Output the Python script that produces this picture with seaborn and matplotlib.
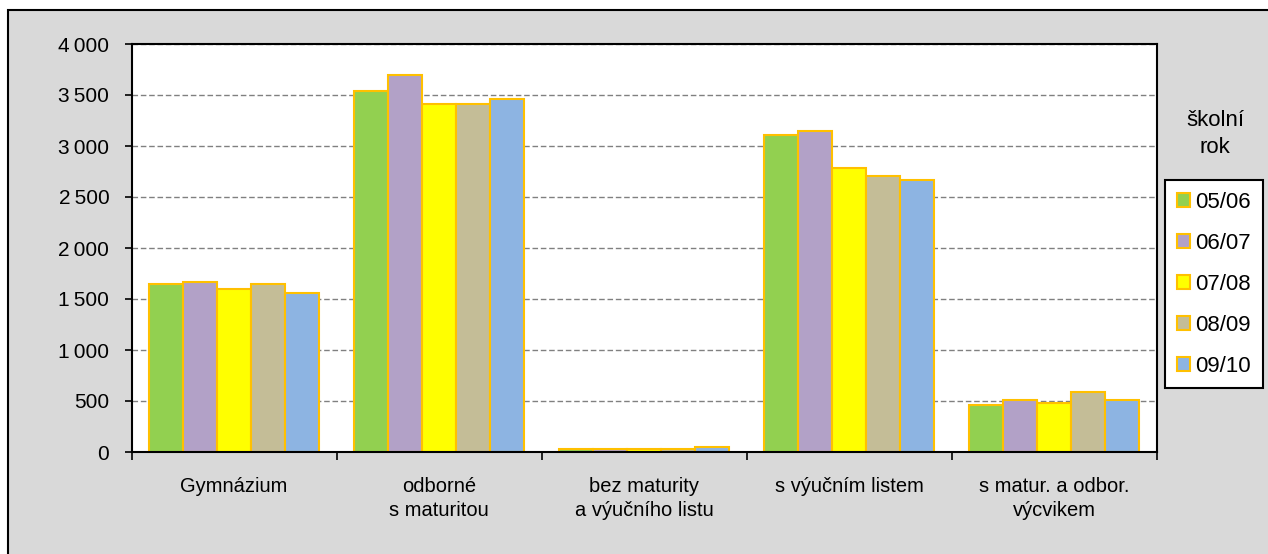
import pandas as pd
import seaborn as sns
import matplotlib.pyplot as plt
from matplotlib.patches import Rectangle, Patch
from matplotlib.ticker import FuncFormatter, MultipleLocator

categories = [
    "Gymnázium",
    "odborné\ns maturitou",
    "bez maturity\na výučního listu",
    "s výučním listem",
    "s matur. a odbor.\nvýcvikem",
]
years = ["05/06", "06/07", "07/08", "08/09", "09/10"]

v_0506 = [1650, 3540, 30, 3110, 460]
v_0607 = [1665, 3695, 25, 3150, 510]
v_0708 = [1595, 3410, 25, 2780, 480]
v_0809 = [1650, 3410, 30, 2710, 590]
v_0910 = [1555, 3465, 45, 2670, 510]

colors = ["#92D050", "#B2A1C7", "#FFFF00", "#C4BD97", "#8DB4E2"]
edge = "#FFC000"

rows = []
for yr, vals in zip(years, [v_0506, v_0607, v_0708, v_0809, v_0910]):
    for cat, v in zip(categories, vals):
        rows.append({"kategorie": cat, "rok": yr, "pocet": v})
df = pd.DataFrame(rows)

sns.set_style("white")
plt.rcParams["font.family"] = ["Liberation Sans", "DejaVu Sans"]
plt.rcParams["text.color"] = "black"
plt.rcParams["xtick.color"] = "black"
plt.rcParams["ytick.color"] = "black"

fig = plt.figure(figsize=(12.68, 5.54), dpi=100)
fig.patch.set_facecolor("white")

# outer chart frame (runs off the right and bottom edge like in the source)
fig.patches.append(Rectangle((8 / 1268, -0.05), 1.05, 1.05 - 10 / 554,
                             transform=fig.transFigure, facecolor="#D9D9D9",
                             edgecolor="black", linewidth=1.5, zorder=-5))

ax = fig.add_axes([131.5 / 1268, 1 - 452 / 554, 1025 / 1268, 408 / 554])
ax.set_zorder(2)
ax.set_facecolor("white")

sns.barplot(
    data=df, x="kategorie", y="pocet", hue="rok",
    order=categories, hue_order=years, palette=colors,
    edgecolor=edge, linewidth=1.5, width=0.83, saturation=1,
    legend=False, ax=ax,
)

ax.set_ylim(0, 4000)
ax.set_xlim(-0.5, 4.5)
ax.yaxis.set_major_locator(MultipleLocator(500))
ax.yaxis.set_major_formatter(FuncFormatter(lambda v, p: f"{int(v):,}".replace(",", "\u2009")))
ax.grid(axis="y", color="#808080", linestyle=(0, (4, 2)), linewidth=1)
ax.set_axisbelow(True)
for s in ax.spines.values():
    s.set_color("black")
    s.set_linewidth(1.5)

ax.set_xlabel("")
ax.set_ylabel("")
ax.tick_params(axis="y", labelsize=15, length=5, width=1.2, direction="out", left=True, pad=11)
ax.tick_params(axis="x", which="major", labelsize=14.5, length=0, pad=18)
for lab in ax.get_xticklabels():
    lab.set_linespacing(1.35)
ax.set_xticks([i - 0.5 for i in range(6)], minor=True)
ax.tick_params(axis="x", which="minor", length=6, width=1.2, direction="out", bottom=True)

handles = [Patch(facecolor=c, edgecolor=edge, linewidth=1.5) for c in colors]
leg = fig.legend(handles, years, loc="upper left",
                 bbox_to_anchor=(1165 / 1268, 1 - 180 / 554),
                 frameon=True, fancybox=False, fontsize=16,
                 handlelength=0.6, handleheight=0.6, handletextpad=0.25,
                 labelspacing=0.9, borderpad=0.52, borderaxespad=0,
                 framealpha=1)
leg.get_frame().set_edgecolor("black")
leg.get_frame().set_facecolor("white")
leg.get_frame().set_linewidth(1.5)
leg.set_zorder(3)

fig.text(1215 / 1268, 1 - 134 / 554, "školní\nrok", ha="center", va="center",
         fontsize=16, linespacing=1.35)

fig.savefig("out.png", dpi=100)
